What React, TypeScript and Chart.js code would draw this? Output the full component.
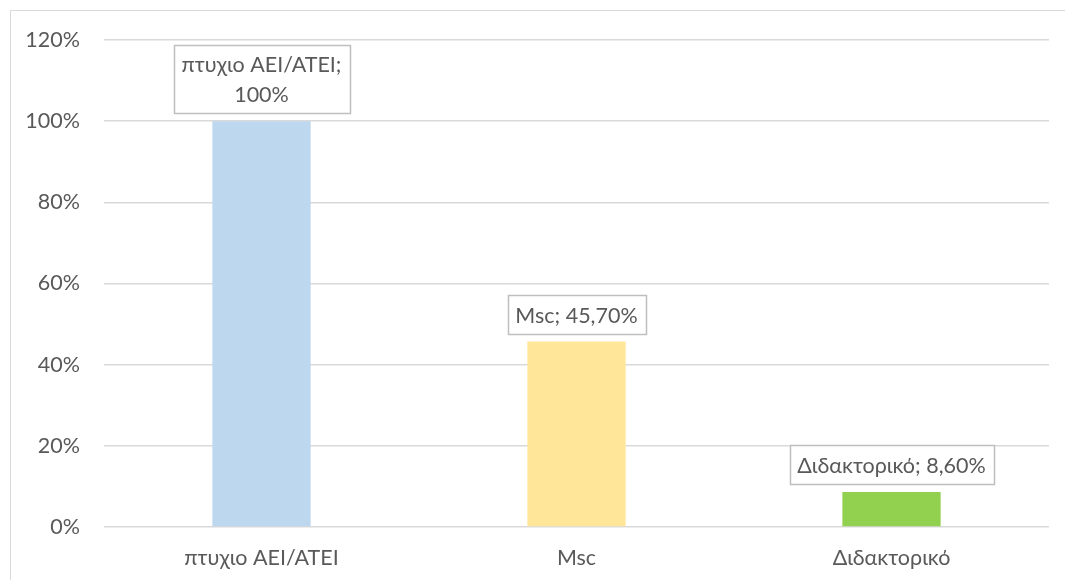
import React, { useEffect, useRef } from "react";
import { Chart, registerables } from "chart.js";

Chart.register(...registerables);

const categories = ["πτυχιο AEI/ATEI", "Msc", "Διδακτορικό"];
const values = [100, 45.7, 8.6];
const valueLabels = ["100%", "45,70%", "8,60%"];
const barColors = ["#BDD7EE", "#FFE699", "#92D050"];
const yTicks = [0, 20, 40, 60, 80, 100, 120];

const FONT = "Lato, 'Open Sans', sans-serif";
const TEXT_COLOR = "#595959";
const FONT_SIZE = 21.5;

const labelPlugin = {
  id: "boxLabels",
  afterDatasetsDraw(chart: any) {
    const ctx = chart.ctx;
    const meta = chart.getDatasetMeta(0);
    ctx.save();
    ctx.font = `${FONT_SIZE}px ${FONT}`;
    ctx.textAlign = "center";
    ctx.textBaseline = "middle";
    meta.data.forEach((bar: any, i: number) => {
      const full = `${categories[i]}; ${valueLabels[i]}`;
      let lines = [full];
      if (ctx.measureText(full).width > 215) {
        lines = [`${categories[i]};`, valueLabels[i]];
      }
      const lineH = 30;
      const textW = Math.max(...lines.map((l) => ctx.measureText(l).width));
      const w = Math.round(textW + 16);
      const h = lines.length === 1 ? 39 : 68;
      const x0 = Math.round(bar.x - w / 2) + 0.5;
      const y1 = Math.round(bar.y - 8);
      const y0 = y1 - h + 0.5;
      ctx.fillStyle = "#FFFFFF";
      ctx.fillRect(x0, y0, w, h);
      ctx.strokeStyle = "#BFBFBF";
      ctx.lineWidth = 1.5;
      ctx.strokeRect(x0, y0, w, h);
      ctx.fillStyle = TEXT_COLOR;
      const startY = y0 + h / 2 - ((lines.length - 1) * lineH) / 2 + 1;
      lines.forEach((l, k) => ctx.fillText(l, bar.x, startY + k * lineH));
    });
    ctx.restore();
  },
};

export default function App() {
  const ref = useRef<HTMLCanvasElement>(null);
  useEffect(() => {
    if (!ref.current) return;
    const chart = new Chart(ref.current, {
      type: "bar",
      data: {
        labels: categories,
        datasets: [
          {
            data: values,
            backgroundColor: barColors,
            borderWidth: 0,
            categoryPercentage: 1,
            barPercentage: 0.312,
          },
        ],
      },
      options: {
        responsive: false,
        animation: false,
        layout: { padding: { left: 0, top: 40, right: 16, bottom: 0 } },
        plugins: { legend: { display: false }, tooltip: { enabled: false } },
        scales: {
          x: {
            grid: { display: false, drawTicks: false },
            border: { display: false },
            ticks: {
              color: TEXT_COLOR,
              font: { family: FONT, size: FONT_SIZE },
              padding: 18,
            },
            afterFit(scale: any) {
              scale.height = 53;
            },
          },
          y: {
            min: 0,
            max: 120,
            afterBuildTicks(scale: any) {
              scale.ticks = yTicks.map((v) => ({ value: v }));
            },
            grid: { color: "#D9D9D9", lineWidth: 1.5, drawTicks: false },
            border: { display: false },
            ticks: {
              color: TEXT_COLOR,
              font: { family: FONT, size: FONT_SIZE },
              padding: 24,
              callback: (v: any) => `${v}%`,
            },
            afterFit(scale: any) {
              scale.width = 104;
            },
          },
        },
      },
      plugins: [labelPlugin],
    });
    return () => chart.destroy();
  }, []);
  return (
    <div style={{ position: "fixed", left: 0, top: 0, width: 1065, height: 580, background: "#fff", overflow: "hidden" }}>
      <div
        style={{
          position: "absolute",
          left: 10,
          top: 10,
          width: 1100,
          height: 600,
          borderLeft: "1.5px solid #D9D9D9",
          borderTop: "1.5px solid #D9D9D9",
        }}
      />
      <canvas ref={ref} width={1065} height={580} style={{ position: "absolute", left: 0, top: 0 }} />
    </div>
  );
}
